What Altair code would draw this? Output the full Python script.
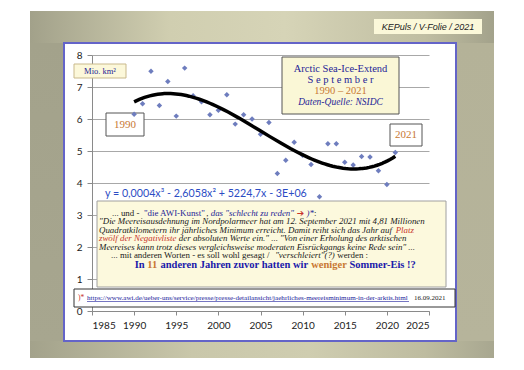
import altair as alt
import pandas as pd

# ---- data ----
years = list(range(1990, 2022))
extent = [6.15, 6.48, 7.49, 6.42, 7.17, 6.09, 7.59, 6.73, 6.54, 6.13,
          6.27, 6.76, 5.84, 6.13, 6.00, 5.52, 5.89, 4.30, 4.71, 5.27,
          4.87, 4.58, 3.57, 5.23, 5.23, 4.65, 4.56, 4.83, 4.81, 4.38,
          3.95, 4.95]
x_ticks = [1985, 1990, 1995, 2000, 2005, 2010, 2015, 2020, 2025]
y_ticks = [0, 1, 2, 3, 4, 5, 6, 7, 8]

df = pd.DataFrame({"year": years, "extent": extent})

OX, OY = 92, 55  # plot-area origin on the page
NAVY = "#1E1E96"
ORANGE = "#C87833"
RED = "#C8352B"
BLACK = "#1a1a1a"
BLUE = "#1A1AAA"
SERIF = "Liberation Serif"

one = pd.DataFrame({"a": [0]})


# ---- approximate Times (Liberation Serif) advance widths, per 1000 em ----
def _tbl(groups, base):
    t = dict(base)
    for chars, w in groups:
        for c in chars:
            t[c] = w
    return t


ROMAN = _tbl([(" ,.", 250), ("!()-", 333), ('"', 408), ("*0123456789bdghnopquvxyöü–", 500),
              ("/:ijlt", 278), ("?aceäz", 444), ("ADGHKNOUVXY", 722), ("BCR", 667),
              ("ELTZ", 611), ("FPS", 556), ("I", 333), ("J", 389), ("M", 889), ("W", 944),
              ("f", 333), ("k", 500), ("m", 778), ("r", 333), ("s", 389), ("w", 722)], {})
ITALIC = _tbl([(" ,.", 250), ('"', 420), ("()-", 333), (":", 333),
               ("*0123456789?abdghnopquäöü", 500), ("/fijlt", 278), ("cek", 444),
               ("vxy", 444), ("rsz", 389), ("AEPRV", 611), ("D", 722), ("KN", 667),
               ("M", 833), ("S", 500), ("m", 722), ("w", 667), ("J", 444), ("Q", 722), ("W", 833)], {})
BOLD = _tbl([(" ", 250), ("!-", 333), ("?0123456789agovb", 500), ("E", 667), ("I", 389),
             ("J", 500), ("S", 556), ("dhnuü", 556), ("erz", 444), ("i", 278), ("m", 833),
             ("t", 333), ("s", 389), ("w", 722)], {})
TABLES = {"r": ROMAN, "i": ITALIC, "b": BOLD}


def em_width(s, kind):
    if kind == "arrow":
        return 0.838 * len(s)
    t = TABLES[kind]
    return sum(t.get(c, 500) for c in s) / 1000.0


def box(x1, y1, x2, y2, fill, stroke=None, sw=1):
    kw = dict(fill=fill, strokeWidth=sw)
    if stroke:
        kw["stroke"] = stroke
    return alt.Chart(one).mark_rect(**kw).encode(
        x=alt.value(x1 - OX), x2=alt.value(x2 - OX),
        y=alt.value(y1 - OY), y2=alt.value(y2 - OY))


def txt(s, x, y, size, color, font=SERIF, style="normal", weight="normal", align="left"):
    return alt.Chart(pd.DataFrame({"t": [s]})).mark_text(
        align=align, baseline="middle", font=font, fontSize=size,
        fontStyle=style, fontWeight=weight, color=color).encode(
        x=alt.value(x - OX), y=alt.value(y - OY), text="t:N")


def rich_line(segs, x, y, size, center=None):
    """Lay out styled segments one after another on one line."""
    total = sum(em_width(s, k) for s, k, _ in segs) * size
    if center is not None:
        x = center - total / 2
    out = []
    for s, kind, color in segs:
        lead = len(s) - len(s.lstrip())
        xs = x + em_width(s[:lead], "r") * size
        body = s.strip()
        if body:
            if kind == "arrow":
                out.append(txt(body, xs, y, size, color, font="DejaVu Sans", weight="bold"))
            else:
                out.append(txt(body, xs, y, size, color,
                               style="italic" if kind == "i" else "normal",
                               weight="bold" if kind == "b" else "normal"))
        x += em_width(s, kind) * size
    return out


def grad(stops, vertical=False):
    return alt.LinearGradient(
        gradient="linear",
        stops=[alt.GradientStop(offset=o, color=c) for o, c in stops],
        x1=0, y1=0, x2=0 if vertical else 1, y2=1 if vertical else 0)


top_stops = [(0, "#a2a18a"), (0.3, "#d0ceb0"), (0.55, "#d6d4b7"), (0.85, "#c0bea2"), (1, "#a3a28b")]
bot_stops = [(0, "#a3a28b"), (0.35, "#c9c7aa"), (0.6, "#cfcdb0"), (0.85, "#bebca0"), (1, "#a8a790")]

layers = [
    box(30, 11, 494, 43, grad(top_stops)),
    box(30, 341, 494, 358, grad(bot_stops)),
    box(30, 43, 64, 341, grad([(0, "#a3a28b"), (1, "#a7a68f")], vertical=True)),
    box(456, 43, 494, 341, grad([(0, "#b4b298"), (1, "#b6b49b")], vertical=True)),
    box(64, 43, 456, 341, "transparent", "#6464C8", 2),
    # KEPuls label
    box(374, 19, 482, 34, "#FBF8D9"),
    txt("KEPuls / V-Folie / 2021", 428, 27, 9, "#222222", font="Liberation Sans",
        style="italic", align="center"),
    # unit box
    box(74, 64, 126, 78, "#FCF8DA", "#C9B98C", 1),
    txt("Mio.  km²", 100, 71, 8.5, NAVY, align="center"),
    # year boxes
    box(106, 113, 144, 136, "white", "#555555", 1),
    txt("1990", 125, 124.5, 11, ORANGE, align="center"),
    box(390, 124, 422, 146, "white", "#555555", 1),
    txt("2021", 406, 135, 11, ORANGE, align="center"),
    # title box
    box(282, 57, 399, 114, "#FAF7D6", "#555555", 1),
    txt("Arctic Sea-Ice-Extend", 340.5, 69, 10.5, NAVY, align="center"),
    txt("S e p t e m b e r", 340.5, 80, 10.5, NAVY, align="center"),
    txt("1990 – 2021", 340.5, 91, 10.5, ORANGE, align="center"),
    txt("Daten-Quelle: NSIDC", 340.5, 102, 9.5, NAVY, style="italic", align="center"),
]

base = alt.Chart(df).encode(
    x=alt.X("year:Q", scale=alt.Scale(domain=[1985, 2025], nice=False),
            axis=alt.Axis(values=x_ticks, format="d", title=None, grid=False,
                          domainColor="#8a8a8a", tickColor="#8a8a8a", tickSize=4,
                          labelFont="Lato", labelFontSize=10, labelColor="#222222",
                          labelPadding=5)),
    y=alt.Y("extent:Q", scale=alt.Scale(domain=[0, 8], nice=False),
            axis=alt.Axis(values=y_ticks, title=None, grid=True, gridColor="#a8a8a8",
                          domainColor="#8a8a8a", tickColor="#8a8a8a", tickSize=5,
                          labelFont="Lato", labelFontSize=10, labelColor="#222222",
                          labelPadding=5)),
)

points = base.mark_point(shape="diamond", filled=True, size=30, color="#6E7DBE", opacity=1)
trend = base.transform_regression("year", "extent", method="poly", order=3,
                                  extent=[1990, 2021]).mark_line(color="black", strokeWidth=3.5)

layers += [points, trend]

layers.append(txt("y = 0,0004x³ - 2,6058x² + 5224,7x - 3E+06", 105, 194, 10.7,
                  "#2C4CC4", font="Lato"))

# big text box
layers.append(box(97, 201, 446, 287, "#FCF9DD", "#a0a0a0", 1))
S = 8.9
layers += rich_line([("... und -  ", "r", BLACK), ('"die AWI-Kunst"', "r", NAVY), (", ", "r", BLACK),
                     ('das "schlecht zu reden"', "i", NAVY), (" ", "r", BLACK), ("➔", "arrow", RED),
                     (" ", "r", BLACK), (")*", "i", NAVY), (":", "r", BLACK)], 112, 212.5, S)
layers += rich_line([('"Die Meereisausdehnung im Nordpolarmeer hat am 12. September 2021 mit 4,81 Millionen',
                      "i", BLACK)], 99, 221, S)
layers += rich_line([("Quadratkilometern ihr jährliches Minimum erreicht. Damit reiht sich das Jahr auf ",
                      "i", BLACK), ("Platz", "i", RED)], 99, 229.5, S)
layers += rich_line([("zwölf der Negativliste", "i", RED),
                     (' der absoluten Werte ein." ... "Von einer Erholung des arktischen', "i", BLACK)],
                    99, 238, S)
layers += rich_line([('Meereises kann trotz dieses vergleichsweise moderaten Eisrückgangs keine Rede sein" ...',
                      "i", BLACK)], 99, 246.5, S)
layers += rich_line([("... mit anderen Worten - es soll wohl gesagt /  ", "r", BLACK),
                     ('"verschleiert"(?)', "i", BLACK), (" werden :", "r", BLACK)], 111, 255, S)
layers += rich_line([("In ", "b", BLUE), ("11", "b", ORANGE), (" anderen Jahren zuvor hatten wir ", "b", BLUE),
                     ("weniger", "b", ORANGE), (" Sommer-Eis !?", "b", BLUE)], 0, 264.5, 10.5, center=275.5)

# source box
url = "https://www.awi.de/ueber-uns/service/presse/presse-detailansicht/jaehrliches-meereisminimum-in-der-arktis.html"
url_size = (409 - 87) / em_width(url, "r")
layers.append(box(74, 289, 455, 307, "white", "#333333", 1))
layers.append(txt(")*", 78, 298, 7.5, RED))
layers.append(txt(url, 87, 298, url_size, "#1A1A9A"))
layers.append(alt.Chart(one).mark_rule(color="#1A1A9A", strokeWidth=0.6).encode(
    x=alt.value(87 - OX), x2=alt.value(409 - OX), y=alt.value(301.5 - OY)))
layers.append(txt("16.09.2021", 414, 298, 7, BLACK))

chart = alt.layer(*layers).properties(
    width=337, height=256,
    padding={"left": 84, "top": 47, "right": 87, "bottom": 51},
    autosize=alt.AutoSizeParams(type="none"),
    background="white",
).configure_view(stroke=None)

chart.save("out.html", embed_options={"renderer": "svg", "actions": False})
